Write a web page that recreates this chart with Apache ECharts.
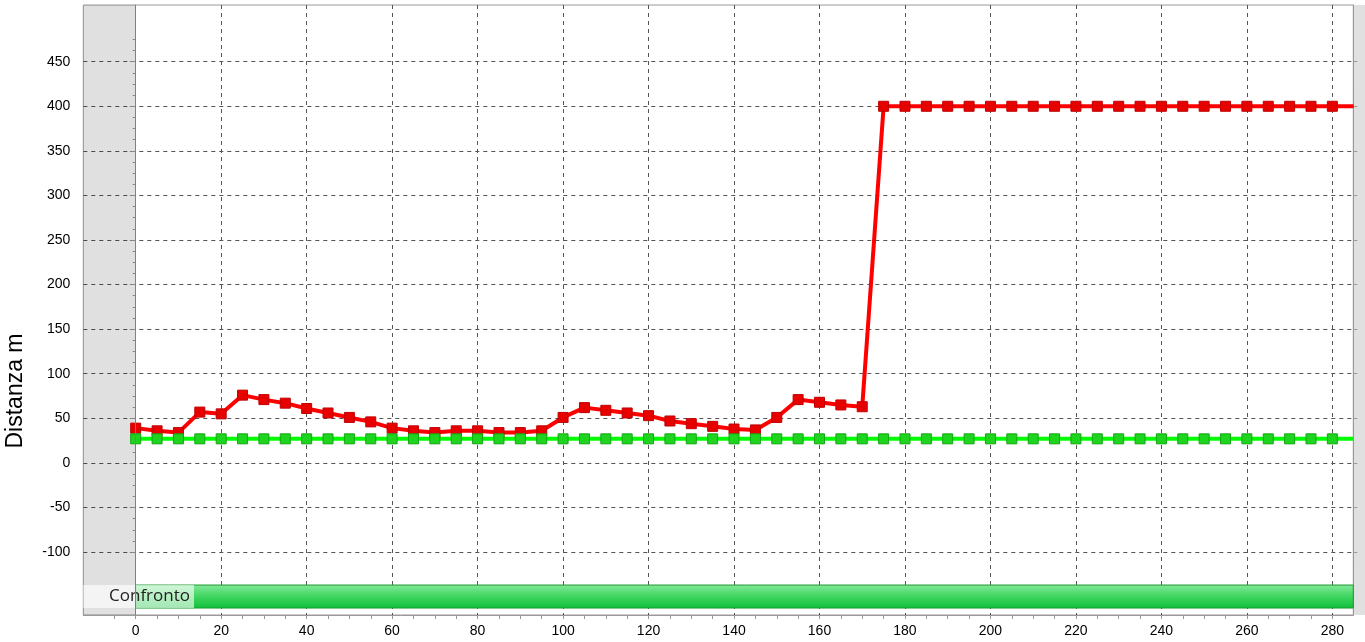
<!DOCTYPE html>
<html><head><meta charset="utf-8">
<script src="https://cdn.jsdelivr.net/npm/echarts@6/dist/echarts.min.js"></script>
<style>html,body{margin:0;padding:0;background:#fff}#c{width:1365px;height:642px}</style>
</head><body><div id="c"></div>
<script>
// ---- data ----
const xValues = [0,5,10,15,20,25,30,35,40,45,50,55,60,65,70,75,80,85,90,95,100,105,110,115,120,125,130,135,140,145,150,155,160,165,170,175,180,185,190,195,200,205,210,215,220,225,230,235,240,245,250,255,260,265,270,275,280];
const redValues = [39,36,34,57,55,76,71,67,61,56,51,46,39,36,34,36,36,34,34,36,51,62,59,56,53,47,44,41,38,37,51,71,68,65,63,400,400,400,400,400,400,400,400,400,400,400,400,400,400,400,400,400,400,400,400,400,400];
const greenValues = [27,27,27,27,27,27,27,27,27,27,27,27,27,27,27,27,27,27,27,27,27,27,27,27,27,27,27,27,27,27,27,27,27,27,27,27,27,27,27,27,27,27,27,27,27,27,27,27,27,27,27,27,27,27,27,27,27];
const lineEndX = 285;          // lines run on to the right edge of the plot
const xLabelValues = [0,20,40,60,80,100,120,140,160,180,200,220,240,260,280];
const xTickValues = [-5,0,5,10,15,20,25,30,35,40,45,50,55,60,65,70,75,80,85,90,95,100,105,110,115,120,125,130,135,140,145,150,155,160,165,170,175,180,185,190,195,200,205,210,215,220,225,230,235,240,245,250,255,260,265,270,275,280];
const yLabelValues = [-100,-50,0,50,100,150,200,250,300,350,400,450];
const yMinorTickValues = [-100,-87.5,-75,-62.5,-50,-37.5,-25,-12.5,0,12.5,25,37.5,50,62.5,75,87.5,100,112.5,125,137.5,150,162.5,175,187.5,200,212.5,225,237.5,250,262.5,275,287.5,300,312.5,325,337.5,350,362.5,375,387.5,400,412.5,425,437.5,450,462.5,475];
const xRange = [-12.26, 284.9];
const yRange = [-170.6, 513.6];
const stripY = [-137, -162.8];
const stripLabelEndX = 13.64;
const stripLabel = 'Confronto';
const yName = 'Distanza m';

// ---- chart ----
const chart = echarts.init(document.getElementById('c'), null, {renderer: 'canvas'});
const frameColor = '#999999';
const gridLine = {show: true, lineStyle: {color: '#555555', type: [4, 4], width: 1}};
const labelFont = {color: '#000', fontSize: 14, fontFamily: '"Liberation Sans", Arial, sans-serif'};

function pairs(vals) {
  const d = xValues.map((x, i) => [x, vals[i]]);
  d.push({value: [lineEndX, vals[vals.length - 1]], symbol: 'none'});
  return d;
}

const option = {
  animation: false,
  grid: {left: 83.3, right: 11.7, top: 5, bottom: 27, show: true, borderColor: frameColor, borderWidth: 1, backgroundColor: 'transparent'},
  xAxis: [
    {type: 'value', min: xRange[0], max: xRange[1], position: 'bottom',
      axisLine: {show: true, onZero: false, lineStyle: {color: frameColor}},
      axisTick: {show: true, length: 4, customValues: xTickValues, lineStyle: {color: frameColor}},
      axisLabel: Object.assign({customValues: xLabelValues, margin: 9}, labelFont),
      splitLine: {show: false}},
    {type: 'value', min: xRange[0], max: xRange[1], position: 'bottom',
      axisLine: {show: false}, axisTick: {show: false, customValues: xLabelValues},
      axisLabel: {show: false}, splitLine: gridLine}
  ],
  yAxis: [
    {type: 'value', min: yRange[0], max: yRange[1], position: 'left',
      axisLine: {show: true, lineStyle: {color: frameColor}},
      axisTick: {show: true, length: 6, customValues: yLabelValues, lineStyle: {color: frameColor}},
      axisLabel: Object.assign({customValues: yLabelValues, margin: 13}, labelFont),
      splitLine: Object.assign({}, gridLine)},
    {type: 'value', min: yRange[0], max: yRange[1], position: 'left', offset: 0,
      axisLine: {show: false},
      axisTick: {show: true, length: 3, customValues: yMinorTickValues, lineStyle: {color: frameColor}},
      axisLabel: {show: false}, splitLine: {show: false}},
    {type: 'value', min: yRange[0], max: yRange[1], position: 'right',
      axisLine: {show: true, lineStyle: {color: frameColor}},
      axisTick: {show: true, length: 4, customValues: yLabelValues, lineStyle: {color: frameColor}},
      axisLabel: {show: false}, splitLine: {show: false}}
  ],
  graphic: [
    {type: 'rect', right: 0, top: 5, z: -10, shape: {width: 11.7, height: 610}, style: {fill: '#e0e0e0'}},
    {type: 'text', x: 16, y: 391, rotation: Math.PI / 2,
      style: {text: yName, font: '23px "Liberation Sans", Arial, sans-serif', fill: '#000',
        textAlign: 'center', textVerticalAlign: 'middle', align: 'center', verticalAlign: 'middle'}}
  ],
  series: [
    {type: 'line', name: 'bg', data: [], z: -1, silent: true,
      markArea: {silent: true, itemStyle: {color: 'rgba(0,0,0,0.12)'}, data: [[{xAxis: xRange[0]}, {xAxis: 0}]]}},
    {type: 'line', name: 'red', data: pairs(redValues), xAxisIndex: 0, yAxisIndex: 0,
      symbol: 'rect', symbolSize: 10,
      lineStyle: {color: '#ff0000', width: 4},
      itemStyle: {color: '#e60000', borderColor: '#c00000', borderWidth: 1},
      markLine: {silent: true, symbol: 'none', label: {show: false},
        lineStyle: {color: '#808080', type: 'solid', width: 1}, data: [{xAxis: 0}]}},
    {type: 'line', name: 'green', data: pairs(greenValues), xAxisIndex: 0, yAxisIndex: 0,
      symbol: 'rect', symbolSize: 10,
      lineStyle: {color: '#00ff00', width: 4},
      itemStyle: {color: '#1fd41f', borderColor: '#12a812', borderWidth: 1},
      markArea: {silent: true, data: [
        [{xAxis: 0, yAxis: stripY[0],
          itemStyle: {borderColor: '#1a9a30', borderWidth: 1,
            color: new echarts.graphic.LinearGradient(0, 0, 0, 1, [
              {offset: 0, color: '#86e89a'}, {offset: 0.5, color: '#3fd660'}, {offset: 1, color: '#0fbf3a'}])}},
         {xAxis: xRange[1], yAxis: stripY[1]}],
        [{xAxis: xRange[0], yAxis: stripY[0],
          itemStyle: {color: 'rgba(255,255,255,0.62)', borderWidth: 0},
          label: {show: true, position: 'insideRight', distance: 4, formatter: stripLabel,
            fontSize: 17, color: '#222', fontFamily: '"Open Sans", "Noto Sans", sans-serif'}},
         {xAxis: stripLabelEndX, yAxis: stripY[1]}]
      ]}}
  ]
};
chart.setOption(option);
</script>
</body></html>
